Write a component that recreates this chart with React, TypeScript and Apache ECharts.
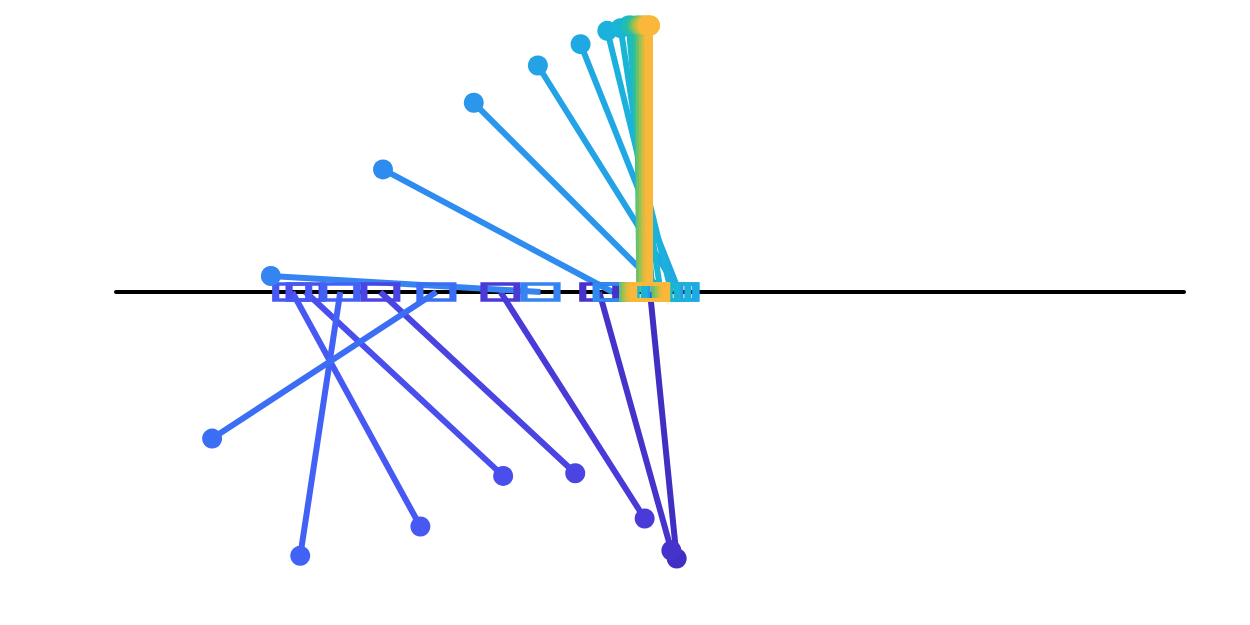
import React, { useEffect, useRef } from "react";
import * as echarts from "echarts";

// Cart position on the track (x), pole tip position (x, y) for each frame
const cartX = [0.0, -0.19, -0.56, -1.01, -1.29, -1.34, -1.16, -0.8, -0.41, -0.14, 0.05, 0.11, 0.11, 0.08, 0.04, 0.01, -0.02, -0.04, -0.04, -0.03, -0.02, -0.01, 0.0, 0.0, 0.0];
const tipX = [0.1, 0.08, -0.02, -0.28, -0.55, -0.86, -1.31, -1.64, -1.42, -1.0, -0.66, -0.42, -0.26, -0.16, -0.11, -0.08, -0.07, -0.05, -0.04, -0.03, -0.02, -0.01, -0.01, 0.0, 0.0];
const tipY = [-1.0, -0.97, -0.85, -0.68, -0.69, -0.88, -0.99, -0.55, 0.06, 0.46, 0.71, 0.85, 0.93, 0.98, 0.99, 1.0, 1.0, 1.0, 1.0, 1.0, 1.0, 1.0, 1.0, 1.0, 1.0];
const frameColors = [
  "#3f2fc2", "#4533cc", "#4a3ad8", "#4a44e2", "#4a4eec", "#4858f2", "#4262f6", "#3c6ef5",
  "#3584f2", "#2e8cf0", "#2a96ec", "#24a2e6", "#20a8e2", "#1cb0dc", "#19b4d6", "#18b8cc",
  "#20bcb6", "#3cc090", "#6cc468", "#a0c050", "#d0bc44", "#f0b83c", "#f8b83a", "#f8b83a", "#f9b83a",
];

export default function App() {
  const ref = useRef<HTMLDivElement>(null);
  useEffect(() => {
    document.body.style.margin = "0";
    if (!ref.current) return;
    const chart = echarts.init(ref.current, undefined, { renderer: "svg" });
    const series = cartX.map((cx, i) => {
      const c = frameColors[i];
      return {
        type: "line",
        clip: false,
        silent: true,
        lineStyle: { color: c, width: 6 },
        data: [
          {
            value: [cx, 0],
            symbol: "rect",
            symbolSize: [33, 16],
            itemStyle: { color: "rgba(0,0,0,0)", borderColor: c, borderWidth: 5 },
          },
          {
            value: [tipX[i], tipY[i]],
            symbol: "circle",
            symbolSize: 20,
            itemStyle: { color: c, borderWidth: 0 },
          },
        ],
      };
    });
    chart.setOption({
      animation: false,
      backgroundColor: "#ffffff",
      grid: { left: 116, right: 66, top: 25.5, bottom: 66.5 },
      xAxis: {
        type: "value",
        min: -2,
        max: 2,
        axisLine: { show: true, onZero: true, lineStyle: { color: "#000", width: 4 } },
        axisTick: { show: false },
        axisLabel: { show: false },
        splitLine: { show: false },
      },
      yAxis: {
        type: "value",
        min: -1,
        max: 1,
        axisLine: { show: false },
        axisTick: { show: false },
        axisLabel: { show: false },
        splitLine: { show: false },
      },
      series,
    });
    return () => chart.dispose();
  }, []);
  return <div ref={ref} style={{ width: 1250, height: 625 }} />;
}
